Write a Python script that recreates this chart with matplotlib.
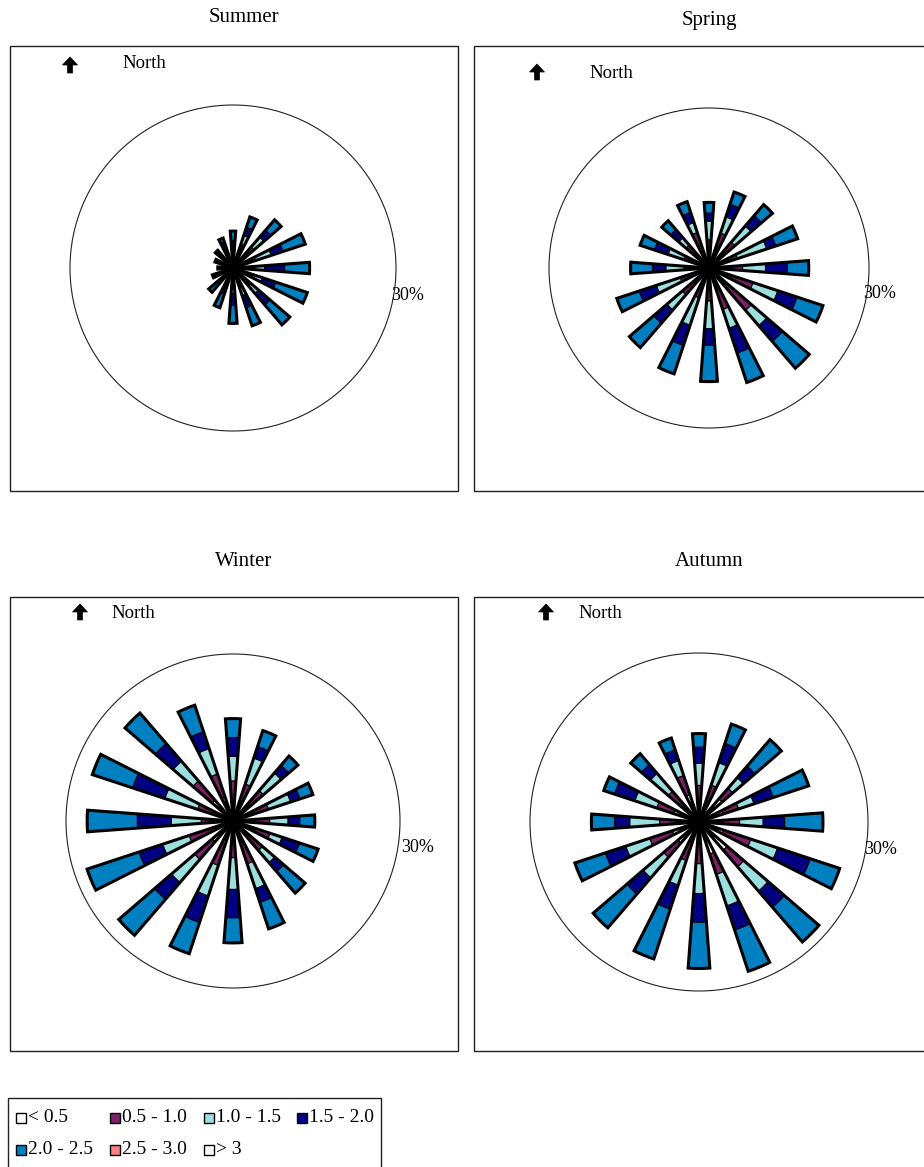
import numpy as np
import matplotlib
matplotlib.use("Agg")
import matplotlib.pyplot as plt
from matplotlib.patches import Rectangle, Polygon, Circle

plt.rcParams["font.family"] = ["Liberation Serif", "DejaVu Serif"]

W, H = 924, 1167

directions = ["N", "NNE", "NE", "ENE", "E", "ESE", "SE", "SSE",
              "S", "SSW", "SW", "WSW", "W", "WNW", "NW", "NNW"]
speed_classes = ["< 0.5", "0.5 - 1.0", "1.0 - 1.5", "1.5 - 2.0",
                 "2.0 - 2.5", "2.5 - 3.0", "> 3"]
class_colors = ["#FFFFFF", "#7B2165", "#9CDFDF", "#000080",
                "#0080C0", "#FF8080", "#FFFFFF"]
ring_value = 30
ring_label = "30%"

# Frequency (%) of each speed class (m/s) per direction, N clockwise.
# Classes 2.5 - 3.0 and > 3 have no observations in any season.
summer_lt05 = [2.0, 2.5, 2.8, 2.5, 2.3, 2.2, 2.5, 2.3, 2.0, 1.5, 1.4, 1.2, 1.0, 1.2, 1.4, 1.8]
summer_05_10 = [1.3, 2.1, 2.3, 1.9, 1.7, 1.5, 1.8, 1.4, 0.9, 1.0, 0.9, 0.8, 0.5, 0.6, 0.8, 1.3]
summer_10_15 = [0.9, 1.7, 2.4, 3.0, 1.8, 2.0, 1.9, 1.6, 1.8, 1.2, 0.8, 0.8, 0.4, 0.5, 0.6, 0.9]
summer_15_20 = [0.9, 1.6, 1.7, 2.3, 3.7, 2.6, 2.8, 2.4, 2.2, 1.4, 0.9, 0.5, 0.3, 0.5, 0.6, 1.1]
summer_20_25 = [1.7, 2.0, 2.5, 4.3, 4.6, 6.1, 4.8, 3.5, 3.3, 2.6, 1.9, 0.7, 0.6, 0.7, 0.9, 0.7]

spring_lt05 = [2.0, 3.5, 3.8, 3.0, 2.5, 3.4, 4.2, 3.8, 2.2, 2.5, 2.6, 2.4, 1.9, 2.7, 3.5, 4.4]
spring_05_10 = [3.3, 3.4, 2.6, 2.6, 3.8, 5.3, 6.3, 4.4, 4.0, 3.4, 4.0, 3.3, 2.8, 2.3, 2.2, 2.6]
spring_10_15 = [3.5, 3.2, 4.0, 5.8, 4.3, 4.9, 3.8, 3.7, 5.2, 5.4, 3.8, 4.7, 3.4, 3.1, 1.8, 2.0]
spring_15_20 = [1.5, 2.5, 2.6, 1.8, 4.1, 3.8, 3.9, 4.9, 3.1, 4.0, 3.3, 3.4, 2.5, 2.7, 2.0, 2.0]
spring_20_25 = [2.0, 2.4, 2.7, 4.3, 4.0, 5.1, 6.6, 5.8, 6.8, 5.6, 6.0, 4.4, 4.1, 2.8, 2.2, 2.1]

winter_lt05 = [3.3, 3.9, 4.0, 3.8, 3.0, 3.5, 3.8, 3.9, 3.3, 4.3, 4.9, 4.2, 2.7, 3.2, 4.9, 4.5]
winter_05_10 = [3.9, 3.1, 3.2, 2.9, 3.6, 3.5, 3.2, 4.2, 3.3, 4.1, 4.2, 4.1, 3.0, 3.5, 4.6, 4.4]
winter_10_15 = [4.4, 4.9, 4.2, 4.2, 3.3, 2.3, 2.9, 4.7, 5.7, 5.8, 5.5, 5.0, 5.4, 6.2, 4.7, 4.8]
winter_15_20 = [3.4, 2.2, 1.8, 1.8, 2.1, 3.3, 2.1, 2.6, 5.1, 5.0, 4.0, 4.5, 6.1, 6.1, 4.2, 3.2]
winter_20_25 = [3.4, 3.0, 2.2, 2.4, 2.7, 3.5, 5.1, 5.0, 4.5, 5.9, 8.5, 9.8, 9.0, 7.6, 7.2, 5.0]

autumn_lt05 = [2.7, 4.0, 5.4, 4.5, 3.1, 4.6, 6.6, 6.0, 3.6, 3.3, 4.9, 5.0, 3.1, 4.7, 3.5, 5.1]
autumn_05_10 = [3.8, 2.9, 2.5, 2.9, 4.1, 5.1, 3.9, 3.8, 3.8, 3.9, 3.4, 4.2, 3.9, 3.2, 3.7, 3.6]
autumn_10_15 = [3.9, 4.2, 2.5, 2.9, 4.2, 5.0, 5.7, 5.9, 5.3, 4.6, 4.8, 4.5, 5.3, 4.1, 4.2, 2.8]
autumn_15_20 = [2.9, 3.6, 2.7, 3.6, 3.8, 6.1, 3.8, 4.5, 5.1, 4.5, 3.8, 3.8, 2.7, 3.8, 2.1, 2.0]
autumn_20_25 = [2.4, 3.6, 6.2, 6.6, 6.8, 5.5, 8.1, 7.7, 8.2, 9.3, 7.9, 5.7, 4.1, 2.0, 2.5, 2.2]

seasons = [
    # name, classes, circle centre & radius (px), frame box (px), title xy, arrow xy, label xy
    ("Summer", [summer_lt05, summer_05_10, summer_10_15, summer_15_20, summer_20_25],
     (233, 268, 163), (10, 46, 458, 491), (244, 17), (70, 57, 144, 63), (408, 296)),
    ("Spring", [spring_lt05, spring_05_10, spring_10_15, spring_15_20, spring_20_25],
     (709, 268, 160), (474, 46, 940, 491), (709, 20), (537, 64, 611, 72), (880, 294)),
    ("Winter", [winter_lt05, winter_05_10, winter_10_15, winter_15_20, winter_20_25],
     (233, 821, 167), (10, 597, 458, 1051), (244, 561), (80, 604, 133, 612), (418, 847)),
    ("Autumn", [autumn_lt05, autumn_05_10, autumn_10_15, autumn_15_20, autumn_20_25],
     (699, 822, 169), (474, 597, 940, 1051), (709, 561), (546, 604, 600, 612), (881, 849)),
]

fig = plt.figure(figsize=(W / 100, H / 100), dpi=100)


def fx(x):
    return x / W


def fy(y):
    return 1 - y / H


def north_arrow(x, top):
    pts = [(x, top), (x + 7.5, top + 8), (x + 2.5, top + 8), (x + 2.5, top + 16),
           (x - 2.5, top + 16), (x - 2.5, top + 8), (x - 7.5, top + 8)]
    fig.add_artist(Polygon([(fx(px), fy(py)) for px, py in pts], closed=True,
                           transform=fig.transFigure, fc="black", ec="black", lw=0.5))


theta = np.deg2rad(np.arange(len(directions)) * 360.0 / len(directions))
bar_width = np.deg2rad(8.5)

for name, classes, (cx, cy, r), (x0, y0, x1, y1), (tx, ty), (axx, ayy, nx, ny), (lx, ly) in seasons:
    fig.add_artist(Rectangle((fx(x0), fy(y1)), (x1 - x0) / W, (y1 - y0) / H,
                             transform=fig.transFigure, fill=False, ec="#222222", lw=1.0))
    fig.text(fx(tx), fy(ty + 1), name, ha="center", va="center", fontsize=15)
    north_arrow(axx, ayy)
    fig.text(fx(nx), fy(ny + 1), "North", ha="center", va="center", fontsize=13.5)
    fig.text(fx(lx), fy(ly), ring_label, ha="center", va="center", fontsize=13)

    ax = fig.add_axes([fx(cx - r), fy(cy + r), 2 * r / W, 2 * r / H], projection="polar")
    ax.set_theta_zero_location("N")
    ax.set_theta_direction(-1)
    ax.set_ylim(0, ring_value)
    ax.grid(False)
    ax.set_xticks([])
    ax.set_yticks([])
    ax.patch.set_alpha(0)
    for spine in ax.spines.values():
        spine.set_visible(False)
    # 30 % reference ring
    ax.add_artist(Circle((0.5, 0.5), 0.5, transform=ax.transAxes, fill=False,
                         ec="#222222", lw=0.8, clip_on=False))

    bottom = np.zeros(len(directions))
    for vals, color in zip(classes, class_colors):
        vals = np.asarray(vals, dtype=float)
        ax.bar(theta, vals, width=bar_width, bottom=bottom, color=color,
               edgecolor="black", linewidth=0.8)
        bottom += vals
    ax.bar(theta, bottom, width=bar_width, bottom=0, fill=False,
           edgecolor="black", linewidth=2.2)

# legend
fig.add_artist(Rectangle((fx(8), fy(1180)), (381 - 8) / W, (1180 - 1098) / H,
                         transform=fig.transFigure, fill=False, ec="#222222", lw=1.0))
legend_pos = [(15, 1118), (109, 1118), (203, 1118), (296, 1118),
              (15, 1150), (109, 1150), (203, 1150)]
for (lx, ly), label, color in zip(legend_pos, speed_classes, class_colors):
    fig.add_artist(Rectangle((fx(lx + 1), fy(ly + 5)), 10 / W, 10 / H,
                             transform=fig.transFigure, fc=color, ec="black", lw=1.0))
    fig.text(fx(lx + 13), fy(ly), label, ha="left", va="center", fontsize=14)

fig.savefig("out.png", dpi=100)
